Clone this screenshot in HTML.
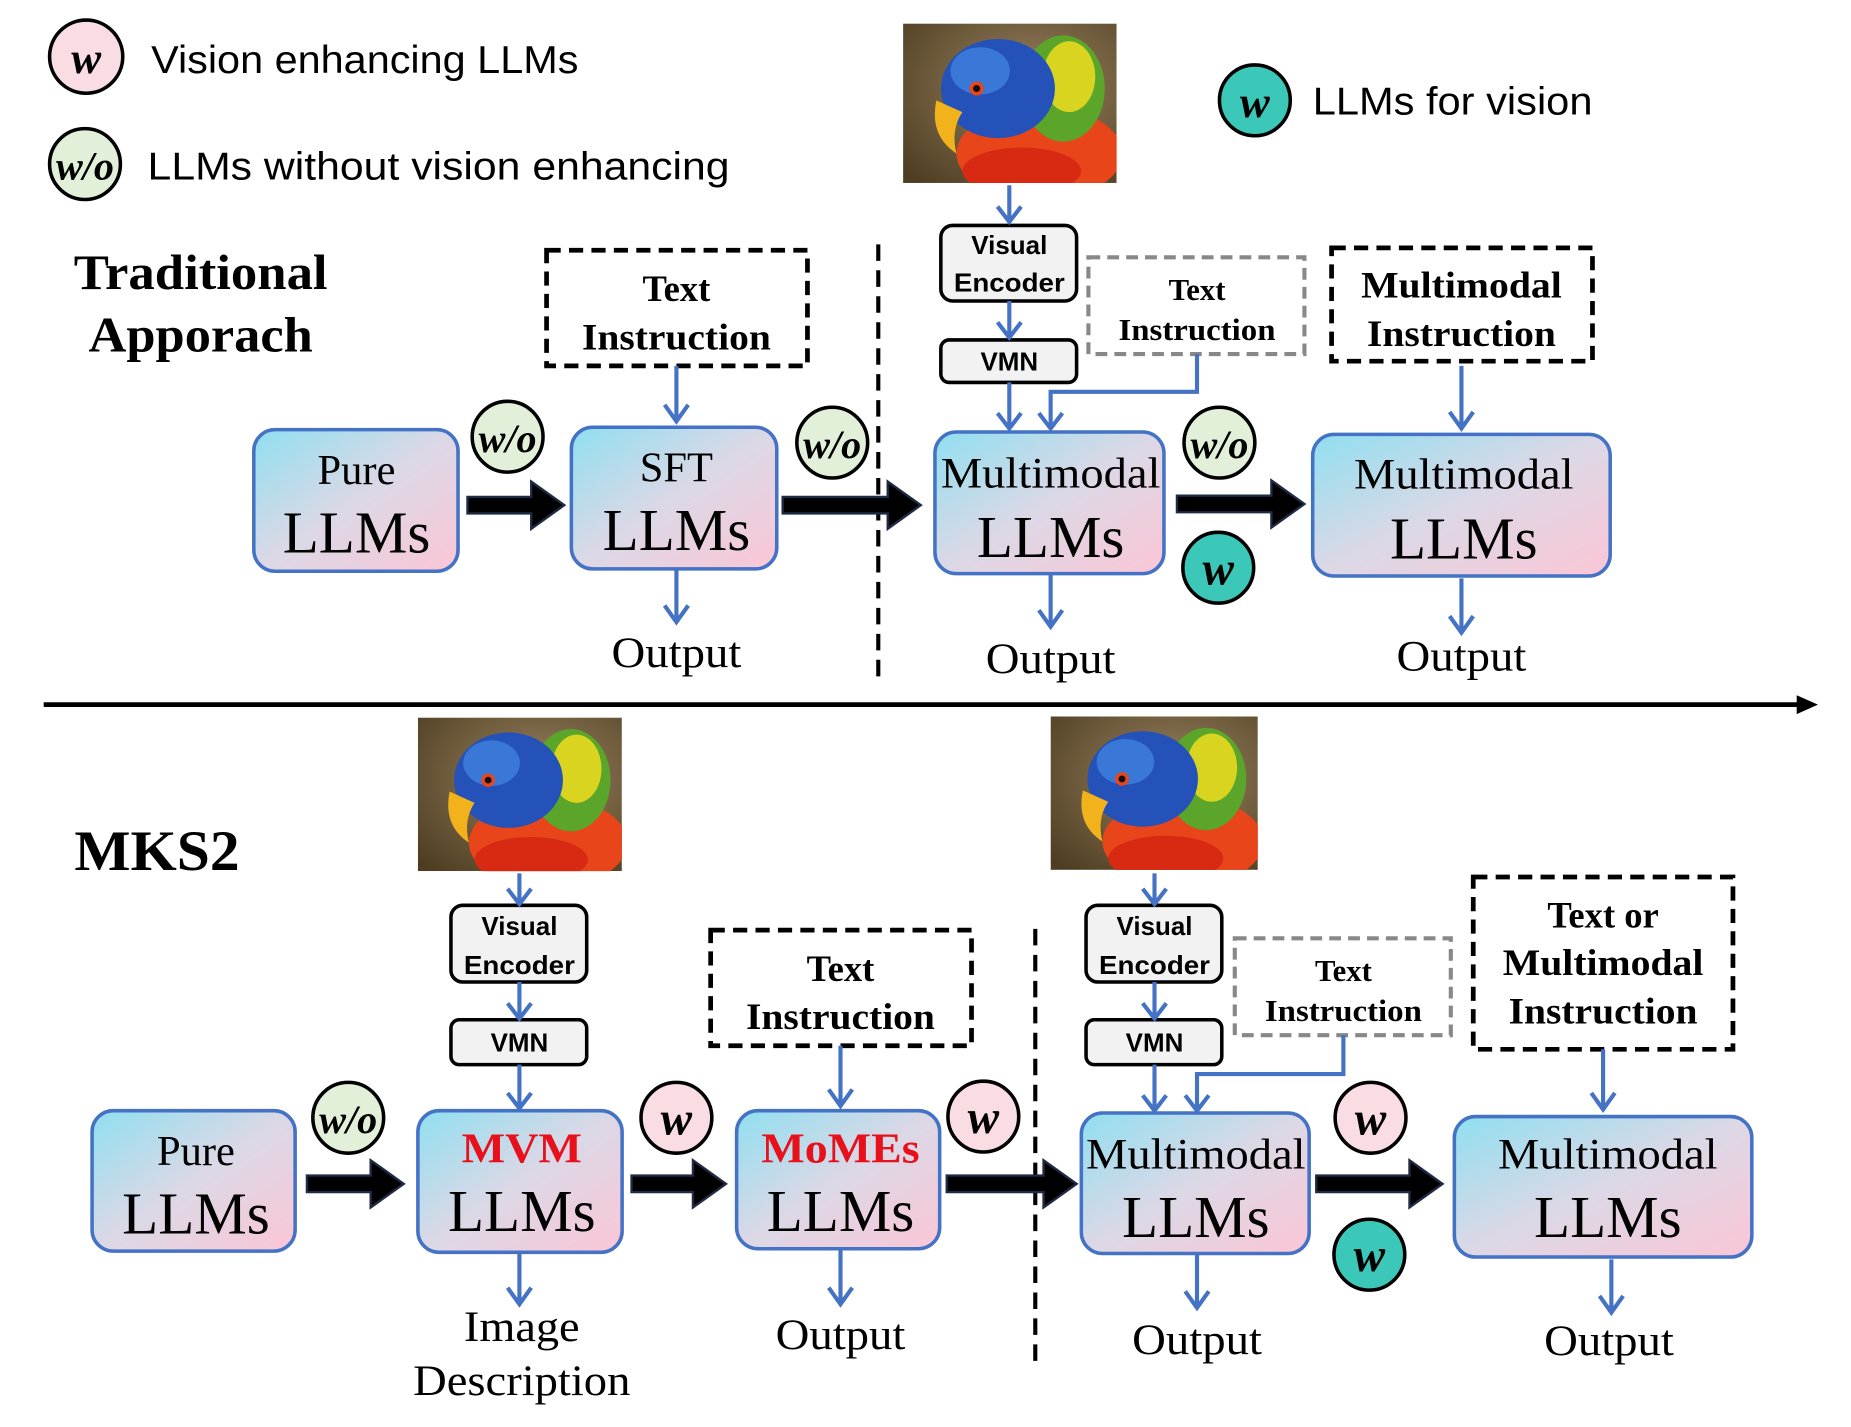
<!DOCTYPE html>
<html><head><meta charset="utf-8"><style>html,body{margin:0;padding:0;background:#fff}svg{display:block}</style></head>
<body>
<svg width="1851" height="1427" viewBox="0 0 1568 1209" preserveAspectRatio="none" xmlns="http://www.w3.org/2000/svg">
<defs>
<linearGradient id="g" x1="0" y1="0" x2="1" y2="1"><stop offset="0" stop-color="#8fdff0"/><stop offset="0.5" stop-color="#dcd8e6"/><stop offset="1" stop-color="#fbc6d6"/></linearGradient>
<radialGradient id="bg" cx="0.6" cy="0.4" r="0.8"><stop offset="0" stop-color="#9a8460"/><stop offset="1" stop-color="#4e3d22"/></radialGradient>
<clipPath id="pc"><rect x="0" y="0" width="180" height="135"/></clipPath>
<g id="parrot" clip-path="url(#pc)">
<rect x="0" y="0" width="180" height="135" fill="url(#bg)"/>
<ellipse cx="115" cy="110" rx="70" ry="40" fill="#e8451b"/>
<ellipse cx="100" cy="125" rx="50" ry="20" fill="#d82a12"/>
<ellipse cx="135" cy="55" rx="35" ry="45" fill="#5aa52a"/>
<ellipse cx="140" cy="45" rx="22" ry="30" fill="#d9d420"/>
<ellipse cx="80" cy="55" rx="48" ry="42" fill="#2452b8"/>
<ellipse cx="65" cy="40" rx="25" ry="20" fill="#3a78d8"/>
<path d="M28 65 Q22 95 45 110 Q40 90 50 75 Z" fill="#f2b21b"/>
<circle cx="62" cy="55" r="6" fill="#e8451b"/><circle cx="62" cy="55" r="3" fill="#111"/>
</g>
</defs>
<style>
.box{fill:url(#g);stroke:#4472c4;stroke-width:3}
.gb{fill:#f2f2f2;stroke:#000;stroke-width:3}
.ser{font-family:"Liberation Serif",serif;text-anchor:middle}
.sb{font-family:"Liberation Sans",sans-serif;font-weight:bold;text-anchor:middle;font-size:22px}
.bl{stroke:#4472c4;stroke-width:3.5;fill:none}
.dash{fill:#fff;stroke:#000;stroke-width:4;stroke-dasharray:12 7}
.gdash{fill:#fff;stroke:#888;stroke-width:3.5;stroke-dasharray:10 6}
</style>

<!-- legend -->
<circle cx="73" cy="48" r="31" fill="#f9dde3" stroke="#000" stroke-width="3"/>
<text x="73" y="62" class="ser" font-size="38" font-style="italic" font-weight="bold">w</text>
<text x="128" y="62" font-family="Liberation Sans,sans-serif" font-size="33" textLength="362" lengthAdjust="spacingAndGlyphs">Vision enhancing LLMs</text>
<circle cx="72" cy="139" r="30" fill="#e2f0d9" stroke="#000" stroke-width="3"/>
<text x="72" y="152" class="ser" font-size="34" font-style="italic" font-weight="bold">w/o</text>
<text x="125" y="152" font-family="Liberation Sans,sans-serif" font-size="33" textLength="493" lengthAdjust="spacingAndGlyphs">LLMs without vision enhancing</text>
<circle cx="1063" cy="85" r="30" fill="#3cc8b8" stroke="#000" stroke-width="3"/>
<text x="1063" y="99" class="ser" font-size="38" font-style="italic" font-weight="bold">w</text>
<text x="1112" y="97" font-family="Liberation Sans,sans-serif" font-size="33" textLength="237" lengthAdjust="spacingAndGlyphs">LLMs for vision</text>

<use href="#parrot" transform="translate(765,20) scale(1.005,1)"/>
<use href="#parrot" transform="translate(354,608) scale(0.96,0.963)"/>
<use href="#parrot" transform="translate(890,607) scale(0.975,0.963)"/>

<text x="170" y="245" class="ser" font-size="42" font-weight="bold" textLength="215" lengthAdjust="spacingAndGlyphs">Traditional</text>
<text x="170" y="298" class="ser" font-size="42" font-weight="bold" textLength="190" lengthAdjust="spacingAndGlyphs">Apporach</text>
<text x="63" y="737" font-family="Liberation Serif,serif" font-size="48" font-weight="bold" textLength="140" lengthAdjust="spacingAndGlyphs">MKS2</text>

<!-- timeline -->
<line x1="37" y1="597" x2="1525" y2="597" stroke="#000" stroke-width="4"/>
<polygon points="1522,589 1540,597 1522,605" fill="#000"/>

<!-- dashed verticals -->
<line x1="744" y1="207" x2="744" y2="573" stroke="#000" stroke-width="3.5" stroke-dasharray="14 8"/>
<line x1="877" y1="787" x2="877" y2="1155" stroke="#000" stroke-width="3.5" stroke-dasharray="14 8"/>

<!-- dashed boxes -->
<rect x="463" y="212" width="221" height="98" class="dash"/>
<text x="573" y="255" class="ser" font-size="31" font-weight="bold">Text</text>
<text x="573" y="296" class="ser" font-size="31" font-weight="bold" textLength="160" lengthAdjust="spacingAndGlyphs">Instruction</text>
<rect x="922" y="218" width="183" height="82" class="gdash"/>
<text x="1014" y="254" class="ser" font-size="26" font-weight="bold">Text</text>
<text x="1014" y="288" class="ser" font-size="26" font-weight="bold" textLength="133" lengthAdjust="spacingAndGlyphs">Instruction</text>
<rect x="1128" y="210" width="221" height="96" class="dash"/>
<text x="1238" y="252" class="ser" font-size="31" font-weight="bold" textLength="170" lengthAdjust="spacingAndGlyphs">Multimodal</text>
<text x="1238" y="293" class="ser" font-size="31" font-weight="bold" textLength="160" lengthAdjust="spacingAndGlyphs">Instruction</text>
<rect x="602" y="788" width="221" height="98" class="dash"/>
<text x="712" y="831" class="ser" font-size="31" font-weight="bold">Text</text>
<text x="712" y="872" class="ser" font-size="31" font-weight="bold" textLength="160" lengthAdjust="spacingAndGlyphs">Instruction</text>
<rect x="1046" y="795" width="183" height="82" class="gdash"/>
<text x="1138" y="831" class="ser" font-size="26" font-weight="bold">Text</text>
<text x="1138" y="865" class="ser" font-size="26" font-weight="bold" textLength="133" lengthAdjust="spacingAndGlyphs">Instruction</text>
<rect x="1248" y="743" width="220" height="146" class="dash"/>
<text x="1358" y="786" class="ser" font-size="31" font-weight="bold">Text or</text>
<text x="1358" y="826" class="ser" font-size="31" font-weight="bold" textLength="170" lengthAdjust="spacingAndGlyphs">Multimodal</text>
<text x="1358" y="867" class="ser" font-size="31" font-weight="bold" textLength="160" lengthAdjust="spacingAndGlyphs">Instruction</text>

<!-- grey boxes -->
<rect x="797" y="191" width="115" height="64" rx="10" class="gb"/>
<text x="855" y="215" class="sb">Visual</text><text x="855" y="247" class="sb" textLength="94" lengthAdjust="spacingAndGlyphs">Encoder</text>
<rect x="797" y="288" width="115" height="36" rx="7" class="gb"/>
<text x="855" y="314" class="sb">VMN</text>
<rect x="382" y="767" width="115" height="65" rx="10" class="gb"/>
<text x="440" y="792" class="sb">Visual</text><text x="440" y="825" class="sb" textLength="94" lengthAdjust="spacingAndGlyphs">Encoder</text>
<rect x="382" y="864" width="115" height="38" rx="7" class="gb"/>
<text x="440" y="891" class="sb">VMN</text>
<rect x="920" y="767" width="115" height="65" rx="10" class="gb"/>
<text x="978" y="792" class="sb">Visual</text><text x="978" y="825" class="sb" textLength="94" lengthAdjust="spacingAndGlyphs">Encoder</text>
<rect x="920" y="864" width="115" height="38" rx="7" class="gb"/>
<text x="978" y="891" class="sb">VMN</text>

<!-- main boxes -->
<g>
<rect x="215" y="364" width="173" height="120" rx="18" class="box"/>
<text x="302" y="410" class="ser" font-size="36">Pure</text><text x="302" y="468" class="ser" font-size="50" textLength="125" lengthAdjust="spacingAndGlyphs">LLMs</text>
<rect x="484" y="362" width="174" height="120" rx="18" class="box"/>
<text x="573" y="408" class="ser" font-size="36">SFT</text><text x="573" y="466" class="ser" font-size="50" textLength="125" lengthAdjust="spacingAndGlyphs">LLMs</text>
<rect x="792" y="366" width="194" height="120" rx="18" class="box"/>
<text x="890" y="413" class="ser" font-size="37" textLength="186" lengthAdjust="spacingAndGlyphs">Multimodal</text><text x="890" y="472" class="ser" font-size="50" textLength="125" lengthAdjust="spacingAndGlyphs">LLMs</text>
<rect x="1112" y="368" width="252" height="120" rx="18" class="box"/>
<text x="1240" y="414" class="ser" font-size="37" textLength="186" lengthAdjust="spacingAndGlyphs">Multimodal</text><text x="1240" y="473" class="ser" font-size="50" textLength="125" lengthAdjust="spacingAndGlyphs">LLMs</text>

<rect x="78" y="941" width="172" height="119" rx="18" class="box"/>
<text x="166" y="987" class="ser" font-size="36">Pure</text><text x="166" y="1045" class="ser" font-size="50" textLength="125" lengthAdjust="spacingAndGlyphs">LLMs</text>
<rect x="354" y="941" width="173" height="120" rx="18" class="box"/>
<text x="442" y="985" class="ser" font-size="36" font-weight="bold" fill="#e8101a" textLength="102" lengthAdjust="spacingAndGlyphs">MVM</text><text x="442" y="1043" class="ser" font-size="50" textLength="125" lengthAdjust="spacingAndGlyphs">LLMs</text>
<rect x="624" y="941" width="172" height="117" rx="18" class="box"/>
<text x="712" y="985" class="ser" font-size="36" font-weight="bold" fill="#e8101a" textLength="134" lengthAdjust="spacingAndGlyphs">MoMEs</text><text x="712" y="1043" class="ser" font-size="50" textLength="125" lengthAdjust="spacingAndGlyphs">LLMs</text>
<rect x="916" y="943" width="193" height="119" rx="18" class="box"/>
<text x="1013" y="990" class="ser" font-size="37" textLength="186" lengthAdjust="spacingAndGlyphs">Multimodal</text><text x="1013" y="1048" class="ser" font-size="50" textLength="125" lengthAdjust="spacingAndGlyphs">LLMs</text>
<rect x="1232" y="946" width="252" height="119" rx="18" class="box"/>
<text x="1362" y="990" class="ser" font-size="37" textLength="186" lengthAdjust="spacingAndGlyphs">Multimodal</text><text x="1362" y="1048" class="ser" font-size="50" textLength="125" lengthAdjust="spacingAndGlyphs">LLMs</text>
</g>

<!-- outputs -->
<g class="ser" font-size="37">
<text x="573" y="565" textLength="110" lengthAdjust="spacingAndGlyphs">Output</text>
<text x="890" y="570" textLength="110" lengthAdjust="spacingAndGlyphs">Output</text>
<text x="1238" y="568" textLength="110" lengthAdjust="spacingAndGlyphs">Output</text>
<text x="442" y="1136" textLength="98" lengthAdjust="spacingAndGlyphs">Image</text>
<text x="442" y="1182" textLength="184" lengthAdjust="spacingAndGlyphs">Description</text>
<text x="712" y="1143" textLength="110" lengthAdjust="spacingAndGlyphs">Output</text>
<text x="1014" y="1147" textLength="110" lengthAdjust="spacingAndGlyphs">Output</text>
<text x="1363" y="1148" textLength="110" lengthAdjust="spacingAndGlyphs">Output</text>
</g>

<!-- blue arrows -->
<g class="bl">
<path d="M573 310V356M563 343L573 357L583 343"/>
<path d="M573 482V526M563 513L573 527L583 513"/>
<path d="M855 157V187M845 175L855 188L865 175"/>
<path d="M855 255V285M845 273L855 286L865 273"/>
<path d="M855 324V362M845 350L855 363L865 350"/>
<path d="M1014 300V332H890V362M880 350L890 363L900 350"/>
<path d="M890 486V530M880 517L890 531L900 517"/>
<path d="M1238 310V362M1228 349L1238 363L1248 349"/>
<path d="M1238 490V535M1228 522L1238 536L1248 522"/>
<path d="M440 740V765M430 753L440 766L450 753"/>
<path d="M440 832V862M430 850L440 863L450 850"/>
<path d="M440 902V938M430 926L440 939L450 926"/>
<path d="M440 1061V1104M430 1091L440 1105L450 1091"/>
<path d="M712 886V936M702 923L712 937L722 923"/>
<path d="M712 1058V1104M702 1091L712 1105L722 1091"/>
<path d="M978 740V765M968 753L978 766L988 753"/>
<path d="M978 832V862M968 850L978 863L988 850"/>
<path d="M978 902V940M968 928L978 941L988 928"/>
<path d="M1138 877V910H1014V940M1004 928L1014 941L1024 928"/>
<path d="M1014 1062V1107M1004 1094L1014 1108L1024 1094"/>
<path d="M1358 889V939M1348 926L1358 940L1368 926"/>
<path d="M1365 1067V1111M1355 1098L1365 1112L1375 1098"/>
</g>

<!-- black arrows -->
<g fill="#000" stroke="#1f2a44" stroke-width="2">
<polygon points="396,421 450,421 450,408 478,428 450,448 450,435 396,435"/>
<polygon points="663,421 752,421 752,408 780,428 752,448 752,435 663,435"/>
<polygon points="997,420 1077,420 1077,407 1105,427 1077,447 1077,434 997,434"/>
<polygon points="260,996 314,996 314,983 342,1003 314,1023 314,1010 260,1010"/>
<polygon points="535,996 587,996 587,983 615,1003 587,1023 587,1010 535,1010"/>
<polygon points="802,996 884,996 884,983 912,1003 884,1023 884,1010 802,1010"/>
<polygon points="1115,996 1194,996 1194,983 1222,1003 1194,1023 1194,1010 1115,1010"/>
</g>

<!-- badges -->
<g stroke="#000" stroke-width="3">
<circle cx="430" cy="370" r="30" fill="#e2f0d9"/>
<circle cx="705" cy="375" r="30" fill="#e2f0d9"/>
<circle cx="1033" cy="375" r="30" fill="#e2f0d9"/>
<circle cx="1032" cy="481" r="30" fill="#3cc8b8"/>
<circle cx="295" cy="947" r="30" fill="#e2f0d9"/>
<circle cx="573" cy="947" r="30" fill="#f9dde3"/>
<circle cx="833" cy="946" r="30" fill="#f9dde3"/>
<circle cx="1161" cy="947" r="30" fill="#f9dde3"/>
<circle cx="1160" cy="1063" r="30" fill="#3cc8b8"/>
</g>
<g class="ser" font-style="italic" font-weight="bold">
<text x="430" y="383" font-size="34">w/o</text>
<text x="705" y="388" font-size="34">w/o</text>
<text x="1033" y="388" font-size="34">w/o</text>
<text x="1032" y="495" font-size="40">w</text>
<text x="295" y="960" font-size="34">w/o</text>
<text x="573" y="961" font-size="40">w</text>
<text x="833" y="960" font-size="40">w</text>
<text x="1161" y="961" font-size="40">w</text>
<text x="1160" y="1077" font-size="40">w</text>
</g>
</svg>
</body></html>
